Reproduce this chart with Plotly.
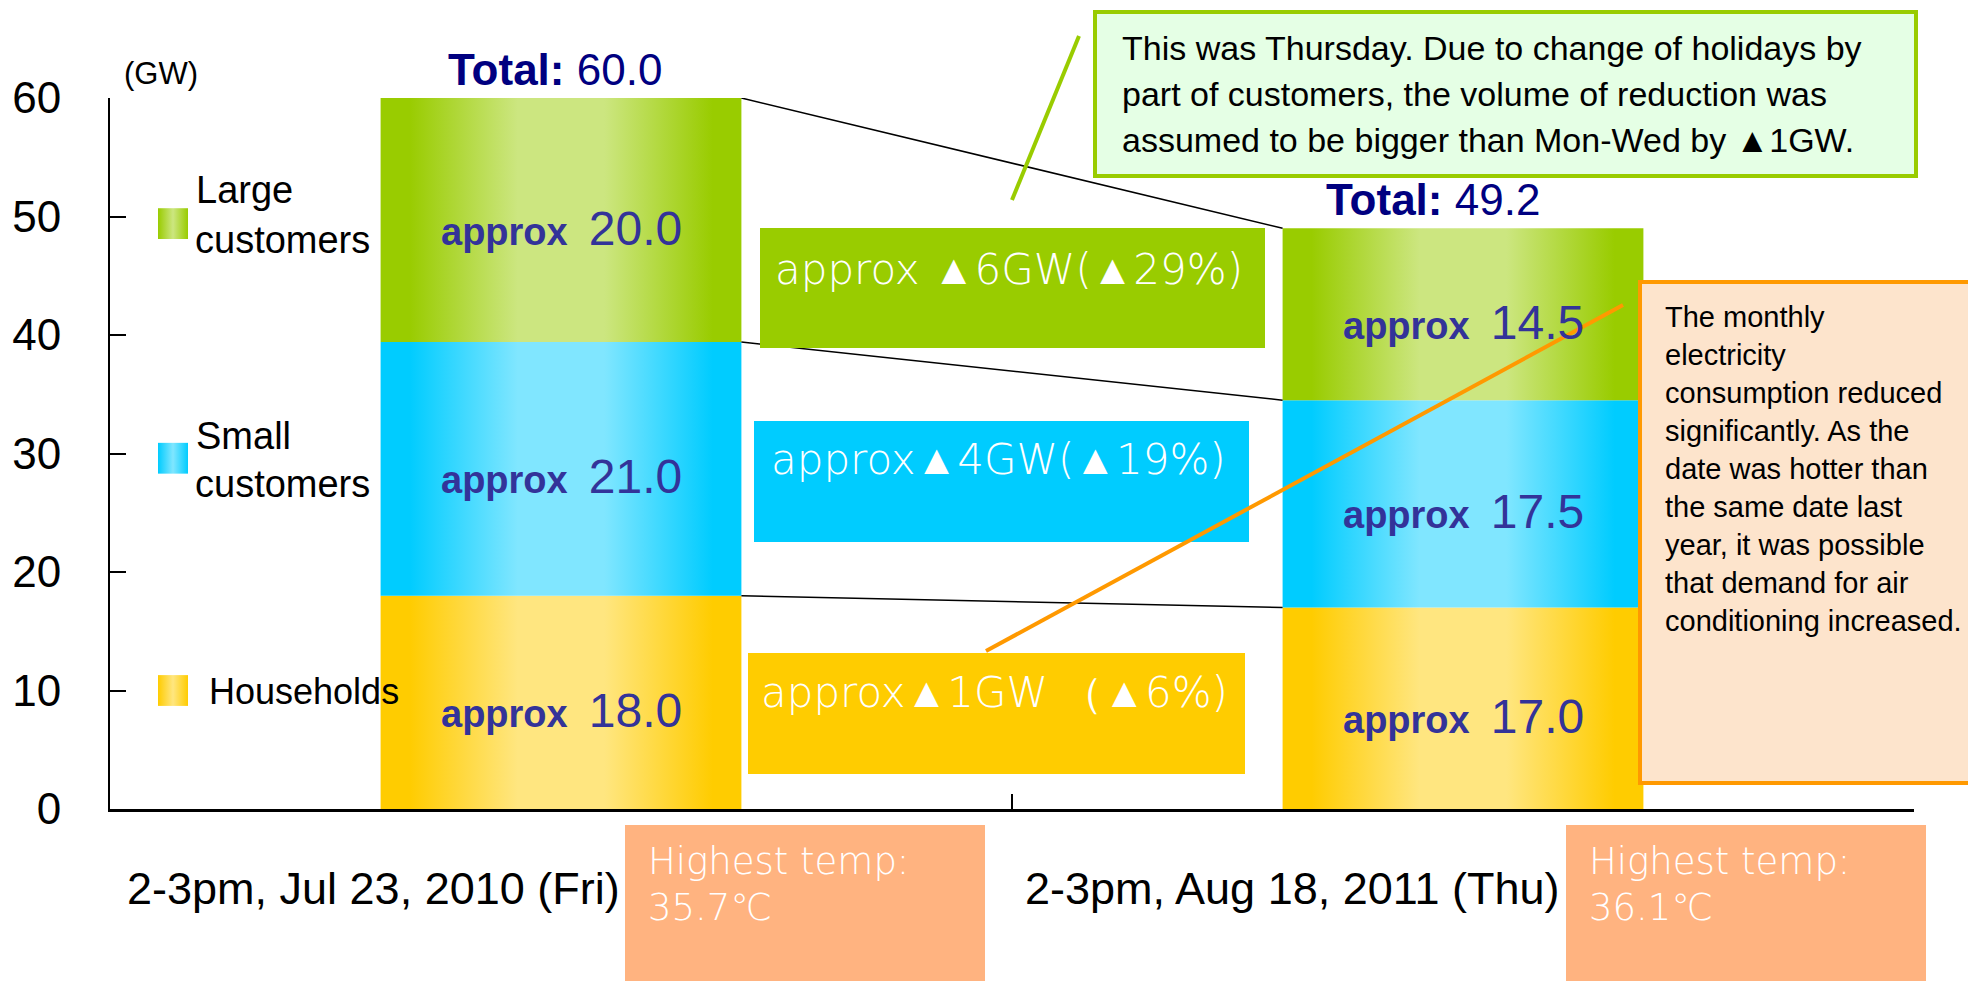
import plotly.graph_objects as go

# ---------------- data ----------------
categories = ["2-3pm, Jul 23, 2010 (Fri)", "2-3pm, Aug 18, 2011 (Thu)"]
series_names = ["Households", "Small customers", "Large customers"]
households = [18.0, 17.0]
small_customers = [21.4, 17.5]
large_customers = [20.6, 14.5]
households_labels = ["18.0", "17.0"]
small_labels = ["21.0", "17.5"]
large_labels = ["20.0", "14.5"]
total_labels = ["60.0", "49.2"]
reduction_labels = ["approx ▲6GW(▲29%)", "approx▲4GW(▲19%)", "approx▲1GW （▲6%)"]  # large, small, households
highest_temps = ["35.7℃", "36.1℃"]
y_ticks = [0, 10, 20, 30, 40, 50, 60]
unit_label = "(GW)"
note_thursday = ["This was Thursday. Due to change of holidays by",
                 "part of customers, the volume of reduction was",
                 "assumed to be bigger than Mon-Wed by ▲1GW."]
note_monthly = ["The monthly", "electricity", "consumption reduced",
                "significantly. As the", "date was hotter than",
                "the same date last", "year, it was possible",
                "that demand for air", "conditioning increased."]

# ---------------- styles ----------------
W, H = 1968, 981
PL, PR, PT, PB = 110, 1914, 98, 809
BAR_W = 0.4
dark = {"Households": "#FFCC00", "Small customers": "#00CCFF", "Large customers": "#99CC00"}
light = {"Households": "#FFE680", "Small customers": "#80E6FF", "Large customers": "#CCE680"}
FONT = "Liberation Sans, Arial, sans-serif"
THIN = "DejaVu Sans ExtraLight, DejaVu Sans, sans-serif"


def pxx(x):
    return (x - PL) / (PR - PL)


def pxy(y):
    return (PB - y) / (PB - PT)


def grad(name):
    d, l = dark[name], light[name]
    return [[0, d], [0.08, d], [0.38, l], [0.62, l], [0.92, d], [1, d]]


fig = go.Figure()

series_vals = [households, small_customers, large_customers]
series_labels = [households_labels, small_labels, large_labels]

annotations = []
cum = [[0.0, 0.0]]
for s, name in enumerate(series_names):
    vals = series_vals[s]
    base = cum[-1]
    top = [base[i] + vals[i] for i in range(len(categories))]
    cum.append(top)
    for i in range(len(categories)):
        x0, x1 = i - BAR_W / 2, i + BAR_W / 2
        fig.add_trace(go.Scatter(
            x=[x0, x1, x1, x0, x0], y=[base[i], base[i], top[i], top[i], base[i]],
            mode="lines", line=dict(width=0), fill="toself",
            fillgradient=dict(type="horizontal", colorscale=grad(name)),
            hoverinfo="skip", showlegend=False))
        annotations.append(dict(
            x=i, y=(base[i] + top[i]) / 2, xref="x", yref="y", yshift=-8,
            xanchor="center", yanchor="middle",
            text=f"<b>approx</b>  <span style='font-size:48px'>{series_labels[s][i]}</span>",
            showarrow=False, font=dict(family=FONT, size=38, color="#333399")))

# connecting lines between stacked levels
for k in range(1, len(cum)):
    fig.add_trace(go.Scatter(
        x=[0 + BAR_W / 2, 1 - BAR_W / 2], y=[cum[k][0], cum[k][1]],
        mode="lines", line=dict(color="black", width=1.5),
        hoverinfo="skip", showlegend=False))

# legend keys (left side)
legend_pos = {"Large customers": 49.4, "Small customers": 29.6, "Households": 10.0}
kx0 = -0.5 + (158 - PL) / (PR - PL) * 2
kx1 = -0.5 + (188 - PL) / (PR - PL) * 2
for name, yc in legend_pos.items():
    fig.add_trace(go.Scatter(
        x=[kx0, kx1, kx1, kx0, kx0], y=[yc - 1.3, yc - 1.3, yc + 1.3, yc + 1.3, yc - 1.3],
        mode="lines", line=dict(width=0), fill="toself",
        fillgradient=dict(type="horizontal", colorscale=[[0, dark[name]], [0.5, light[name]], [1, dark[name]]]),
        hoverinfo="skip", showlegend=False))

legend_text = [("Large", 194, 190, 38), ("customers", 193, 240, 38),
               ("Small", 194, 436, 38), ("customers", 193, 484, 38),
               ("Households", 207, 691, 36)]
for t, x, y, fs in legend_text:
    annotations.append(dict(x=pxx(x), y=pxy(y), xref="paper", yref="paper",
                            xanchor="left", yanchor="middle", text=t, showarrow=False,
                            font=dict(family=FONT, size=fs, color="black")))

# totals
total_xshift = [-6, -30]
for i in range(len(categories)):
    annotations.append(dict(
        x=i, y=cum[-1][i], xref="x", yref="y", xanchor="center", yanchor="bottom",
        yshift=2, xshift=total_xshift[i],
        text=f"<b>Total:</b> {total_labels[i]}", showarrow=False,
        font=dict(family=FONT, size=44, color="#000080")))

# unit
annotations.append(dict(x=pxx(161), y=pxy(74), xref="paper", yref="paper", text=unit_label,
                        xanchor="center", yanchor="middle",
                        showarrow=False, font=dict(family=FONT, size=31, color="black")))

# category labels
cat_right = [622, 1562]
for i, c in enumerate(categories):
    annotations.append(dict(x=pxx(cat_right[i]), y=pxy(888), xref="paper", yref="paper",
                            xanchor="right", yanchor="middle", text=c, showarrow=False,
                            font=dict(family=FONT, size=45, color="black")))

shapes = []
# reduction boxes
red_boxes = [(760, 1265, 228, 348, dark["Large customers"], 1009, 269),
             (754, 1249, 421, 542, dark["Small customers"], 998, 460),
             (748, 1245, 653, 774, dark["Households"], 994, 692)]
for (x0, x1, y0, y1, col, tx, ty), lab in zip(red_boxes, reduction_labels):
    shapes.append(dict(type="rect", xref="paper", yref="paper", x0=pxx(x0), x1=pxx(x1),
                       y0=pxy(y0), y1=pxy(y1), fillcolor=col, line=dict(width=0), layer="above"))
    annotations.append(dict(x=pxx(tx), y=pxy(ty), xref="paper", yref="paper", text=lab,
                            xanchor="center", yanchor="middle",
                            showarrow=False, font=dict(family=THIN, size=42, color="white", weight=200)))

# temperature boxes
temp_boxes = [(625, 985), (1566, 1926)]
for (x0, x1), t in zip(temp_boxes, highest_temps):
    shapes.append(dict(type="rect", xref="paper", yref="paper", x0=pxx(x0), x1=pxx(x1),
                       y0=pxy(825), y1=pxy(995), fillcolor="#FFB380", line=dict(width=0), layer="above"))
    annotations.append(dict(x=pxx(x0 + 21), y=pxy(862), xref="paper", yref="paper",
                            xanchor="left", yanchor="middle", align="left",
                            text="Highest temp:", showarrow=False,
                            font=dict(family=THIN, size=37, color="white", weight=200)))
    annotations.append(dict(x=pxx(x0 + 21), y=pxy(907), xref="paper", yref="paper",
                            xanchor="left", yanchor="middle", align="left",
                            text=t, showarrow=False,
                            font=dict(family=THIN, size=37, color="white", weight=200)))

# note boxes
shapes.append(dict(type="rect", xref="paper", yref="paper", x0=pxx(1095), x1=pxx(1916),
                   y0=pxy(12), y1=pxy(176), fillcolor="#E5FFE5",
                   line=dict(color="#99CC00", width=4), layer="above"))
shapes.append(dict(type="rect", xref="paper", yref="paper", x0=pxx(1640), x1=pxx(1995),
                   y0=pxy(282), y1=pxy(783), fillcolor="#FDE4CC",
                   line=dict(color="#FF9900", width=4), layer="above"))
# callout lines
shapes.append(dict(type="line", xref="paper", yref="paper", x0=pxx(1079), y0=pxy(36),
                   x1=pxx(1012), y1=pxy(200), line=dict(color="#99CC00", width=4), layer="above"))
shapes.append(dict(type="line", xref="paper", yref="paper", x0=pxx(1623), y0=pxy(305),
                   x1=pxx(986), y1=pxy(651), line=dict(color="#FF9900", width=4), layer="above"))

for line, yc in zip(note_thursday, [48, 94, 140]):
    annotations.append(dict(x=pxx(1120), y=pxy(yc), xref="paper", yref="paper",
                            xanchor="left", yanchor="middle", align="left",
                            text=line, showarrow=False,
                            font=dict(family=FONT, size=34, color="black")))
for k, line in enumerate(note_monthly):
    annotations.append(dict(x=pxx(1663), y=pxy(317 + 38 * k), xref="paper", yref="paper",
                            xanchor="left", yanchor="middle", align="left",
                            text=line, showarrow=False,
                            font=dict(family=FONT, size=29, color="black")))

fig.update_layout(
    width=W, height=H,
    margin=dict(l=PL, r=W - PR, t=PT, b=H - PB, autoexpand=False),
    paper_bgcolor="white", plot_bgcolor="white",
    showlegend=False, hovermode=False,
    xaxis=dict(range=[-0.5, 1.5], tickvals=[-0.5, 0.5, 1.5], ticktext=["", "", ""],
               ticks="inside", ticklen=15, tickwidth=2, tickcolor="black",
               showline=True, linewidth=3, linecolor="black",
               showgrid=False, zeroline=False, fixedrange=True),
    yaxis=dict(range=[0, 60], tickvals=y_ticks, ticks="inside", ticklen=16, tickwidth=2,
               tickcolor="black", showline=True, linewidth=2, linecolor="black",
               showgrid=False, zeroline=False, ticklabelstandoff=38,
               tickfont=dict(family=FONT, size=44, color="black"), fixedrange=True),
    shapes=shapes, annotations=annotations,
)

fig.write_html("out.html", config={"displayModeBar": False},
               post_script="document.body.style.margin='0';document.body.style.overflow='hidden';")
